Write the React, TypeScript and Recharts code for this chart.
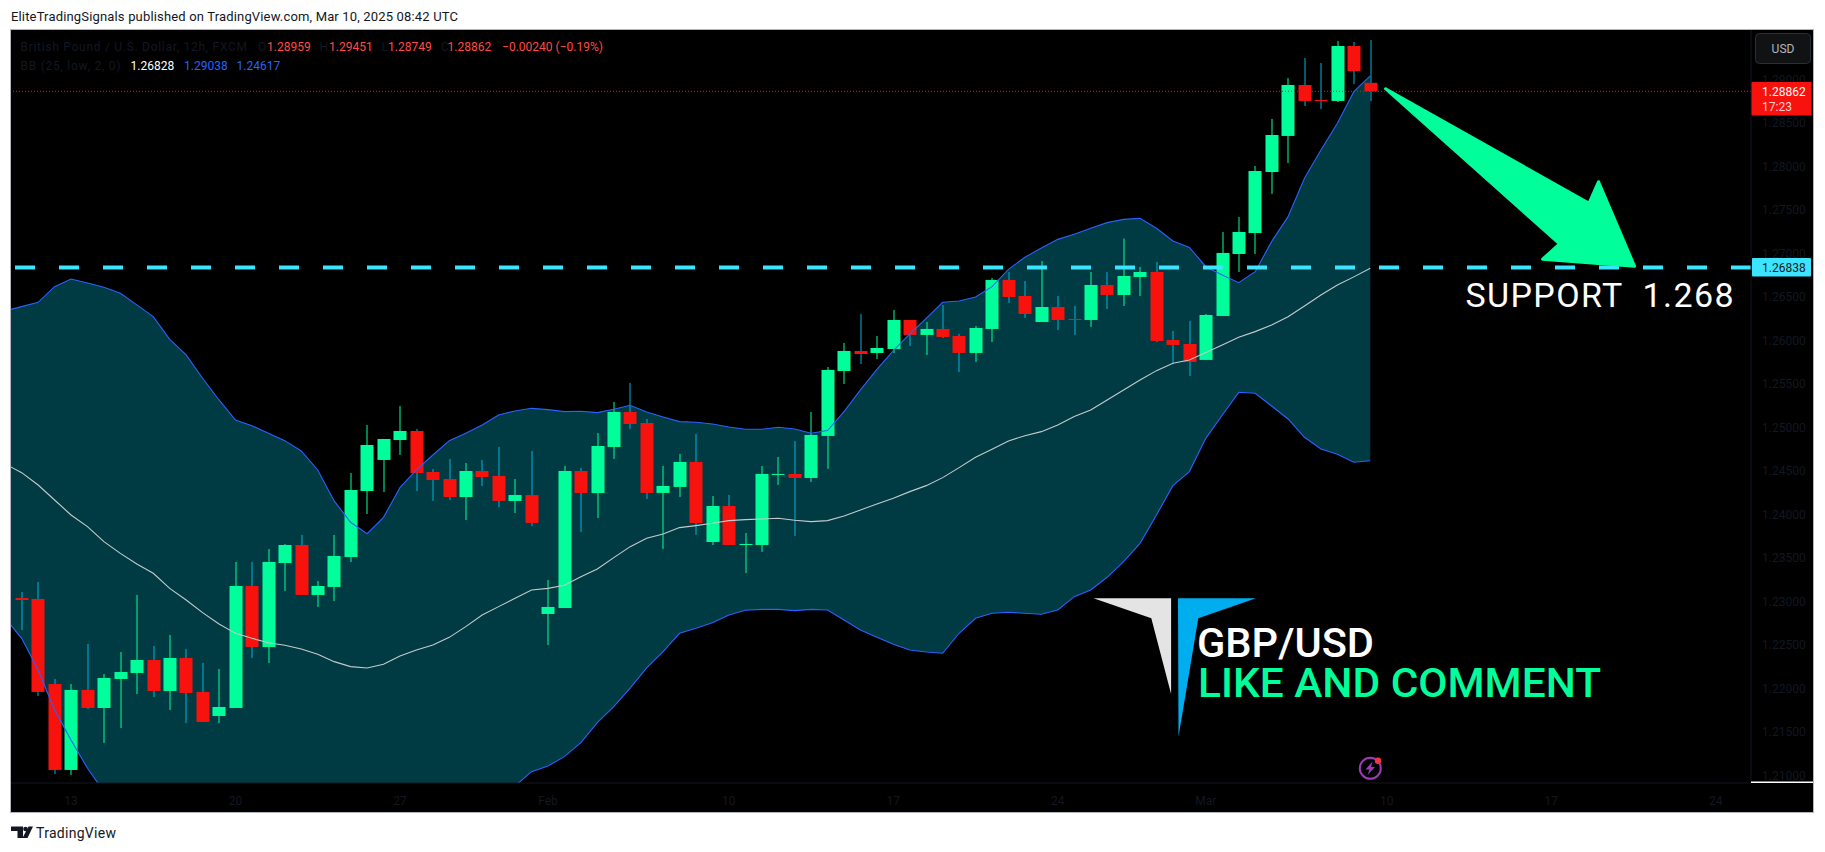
import React from "react";
import { ComposedChart, Area, Line, Bar, XAxis, YAxis, ReferenceLine, ReferenceDot } from "recharts";

// Candles, index 0..82 (12h bars)
const opens = [1.23041,1.2303,1.22053,1.21066,1.21985,1.21778,1.22111,1.2218,1.22329,1.21973,1.22352,1.21962,1.21686,1.21778,1.23179,1.22478,1.23443,1.2365,1.23076,1.23168,1.23512,1.2427,1.24627,1.24856,1.2496,1.24489,1.24408,1.24201,1.245,1.24443,1.24156,1.24224,1.22858,1.22926,1.245,1.24247,1.24776,1.25178,1.25052,1.24248,1.24317,1.24604,1.23685,1.24098,1.2365,1.2365,1.24455,1.24466,1.2442,1.24903,1.25649,1.25879,1.25856,1.25902,1.26235,1.26063,1.26132,1.26051,1.25856,1.26132,1.26695,1.26511,1.26212,1.26384,1.26247,1.26235,1.26637,1.26522,1.26729,1.26786,1.26005,1.25959,1.25776,1.26281,1.26993,1.27234,1.27935,1.28349,1.28934,1.28762,1.28751,1.29382,1.28959];
const highs = [1.2311,1.23225,1.22111,1.22053,1.22513,1.22168,1.22421,1.23076,1.2249,1.22616,1.22456,1.22295,1.22226,1.23455,1.23455,1.23604,1.23662,1.23765,1.23237,1.23765,1.24477,1.25029,1.24868,1.25247,1.24983,1.24523,1.24638,1.24592,1.24627,1.24776,1.24408,1.2473,1.23248,1.24558,1.24535,1.24937,1.25293,1.25511,1.25098,1.24558,1.24696,1.24926,1.24213,1.24225,1.23788,1.24558,1.24661,1.24845,1.25178,1.25695,1.25971,1.26304,1.26051,1.2635,1.26235,1.26212,1.26407,1.26074,1.26166,1.26717,1.26786,1.26683,1.26913,1.26511,1.26396,1.26786,1.26786,1.2717,1.26844,1.26901,1.26109,1.26224,1.26304,1.27246,1.27418,1.28004,1.28544,1.29015,1.29244,1.29187,1.2944,1.29428,1.29451];
const lows = [1.22674,1.21916,1.2102,1.21008,1.21766,1.21376,1.21548,1.21939,1.21904,1.21755,1.21605,1.21617,1.21605,1.21778,1.22352,1.22295,1.23122,1.23076,1.22938,1.23007,1.23455,1.24006,1.24259,1.24684,1.2427,1.24156,1.24167,1.23937,1.24328,1.24087,1.24018,1.23868,1.22501,1.22926,1.23799,1.2396,1.24638,1.24983,1.24179,1.23605,1.24202,1.23765,1.2365,1.2365,1.23329,1.2357,1.2434,1.23754,1.24374,1.24524,1.255,1.2573,1.25787,1.25856,1.25936,1.25833,1.26028,1.25638,1.25753,1.25982,1.2643,1.26258,1.26212,1.2612,1.26063,1.26155,1.26361,1.26396,1.26511,1.25982,1.2573,1.25592,1.25776,1.26281,1.26786,1.26993,1.27682,1.28038,1.28693,1.28659,1.28739,1.28946,1.28749];
const closes = [1.23018,1.21962,1.21066,1.21985,1.21778,1.22122,1.22191,1.22329,1.21973,1.22352,1.2195,1.21617,1.21789,1.23179,1.22478,1.23455,1.2365,1.23076,1.23179,1.23524,1.24282,1.24799,1.24868,1.2496,1.24477,1.24397,1.24201,1.245,1.24431,1.24156,1.24224,1.23903,1.22938,1.245,1.24247,1.24787,1.25178,1.2504,1.24248,1.24328,1.24604,1.23903,1.24098,1.2365,1.23662,1.24466,1.24466,1.2442,1.24914,1.25661,1.25879,1.25844,1.25913,1.26235,1.26063,1.26132,1.2604,1.25856,1.26143,1.26695,1.26499,1.26304,1.26384,1.26235,1.26235,1.26637,1.26522,1.2674,1.26786,1.25994,1.25948,1.25753,1.26292,1.27005,1.27246,1.27946,1.2836,1.28934,1.28751,1.28751,1.29382,1.29095,1.28862];

// Bollinger bands, index -1..82 (the first point lies just left of the visible range)
const bandUpper = [1.26339,1.26388,1.26438,1.26618,1.26706,1.2666,1.2661,1.26541,1.26408,1.26273,1.26013,1.25833,1.25565,1.25316,1.25086,1.25021,1.24933,1.24849,1.2473,1.24512,1.24156,1.23911,1.2378,1.23968,1.24309,1.24512,1.24684,1.24849,1.24933,1.25029,1.25144,1.2519,1.2522,1.25205,1.25182,1.25186,1.25171,1.25209,1.25255,1.25178,1.25121,1.25067,1.2506,1.2504,1.25006,1.24979,1.24979,1.25002,1.24983,1.24933,1.24964,1.25182,1.25431,1.25668,1.25883,1.26074,1.26254,1.26438,1.26453,1.26499,1.26618,1.26817,1.26955,1.27062,1.27161,1.27219,1.27288,1.27353,1.27391,1.27402,1.27288,1.27142,1.27069,1.26847,1.26751,1.26663,1.2679,1.27135,1.27422,1.27862,1.28188,1.28494,1.28858,1.29038];
const bandMid = [1.24581,1.24481,1.24339,1.24167,1.23995,1.23861,1.23688,1.23554,1.23432,1.23325,1.23152,1.23018,1.22873,1.22743,1.22635,1.22578,1.22528,1.22498,1.22455,1.22394,1.2231,1.22253,1.22237,1.22279,1.22375,1.22444,1.22501,1.22589,1.22712,1.22846,1.22942,1.23037,1.23133,1.23152,1.23187,1.23286,1.23374,1.23505,1.23631,1.23727,1.23777,1.2385,1.23873,1.23899,1.2393,1.23941,1.23949,1.23957,1.23934,1.23918,1.2393,1.23984,1.24053,1.24121,1.24187,1.24263,1.24332,1.24424,1.24539,1.24657,1.24749,1.24845,1.24906,1.24952,1.25029,1.25125,1.25201,1.25316,1.25431,1.25546,1.25653,1.25737,1.25776,1.2586,1.25948,1.26036,1.26101,1.26177,1.26273,1.26396,1.26522,1.26637,1.2673,1.26828];
const bandLower = [1.22808,1.22578,1.22214,1.21755,1.2141,1.21085,1.20817,1.20567,1.20456,1.20377,1.20291,1.20203,1.20181,1.2017,1.20184,1.20135,1.20123,1.20147,1.2018,1.20276,1.20464,1.20595,1.20694,1.2059,1.20441,1.20376,1.20318,1.20329,1.20491,1.20663,1.2074,1.20882,1.21046,1.21111,1.21219,1.2138,1.21609,1.21793,1.22007,1.22238,1.22425,1.22636,1.22693,1.22758,1.22846,1.229,1.22911,1.22911,1.22896,1.22911,1.22904,1.22789,1.22674,1.2259,1.22509,1.22444,1.22421,1.22406,1.22636,1.22808,1.22866,1.22877,1.22866,1.22854,1.22903,1.23057,1.23133,1.23279,1.23459,1.23669,1.23995,1.24332,1.24493,1.24875,1.2514,1.25404,1.25393,1.25247,1.25098,1.24887,1.24753,1.24692,1.246,1.24617];

const xTickIndex = [3, 13, 23, 32, 43, 53, 63, 72, 83, 93, 103];
const xTickText = ["13", "20", "27", "Feb", "10", "17", "24", "Mar", "10", "17", "24"];
const yTicks = [1.21, 1.215, 1.22, 1.225, 1.23, 1.235, 1.24, 1.245, 1.25, 1.255, 1.26, 1.265, 1.27, 1.275, 1.28, 1.285, 1.29];

const lastPrice = 1.28862;
const supportPrice = 1.26838;
const arrowTipIndex = 98.13;
const arrowTipPrice = 1.26841;

const rows = bandMid.map((mid, k) => {
  const i = k - 1;
  const has = i >= 0;
  return {
    idx: i,
    mid,
    upper: bandUpper[k],
    lower: bandLower[k],
    band: [bandLower[k], bandUpper[k]],
    range: has ? [lows[i], highs[i]] : null,
    open: has ? opens[i] : null,
    high: has ? highs[i] : null,
    low: has ? lows[i] : null,
    close: has ? closes[i] : null,
  };
});

const UP = "#00ff9a";
const DOWN = "#f7120d";
const DOWN_WICK = "#00b4d8";
const DIM = "#131722";
const FONT = "Roboto, sans-serif";

function Candle(props: any) {
  const { x, y, width, height, payload } = props;
  if (!payload || payload.high == null) return null;
  const h = Math.abs(height);
  const top = height < 0 ? y + height : y;
  const k = h / (payload.high - payload.low);
  const yO = top + (payload.high - payload.open) * k;
  const yC = top + (payload.high - payload.close) * k;
  const up = payload.close >= payload.open;
  const cx = Math.round(x + width / 2);
  const bt = Math.min(yO, yC);
  const bh = Math.max(1, Math.abs(yO - yC));
  return (
    <g>
      <rect x={cx - 0.5} y={top} width={1} height={h} fill={up ? UP : DOWN_WICK} />
      <rect x={cx - 6.5} y={bt} width={13} height={bh} fill={up ? UP : DOWN} />
    </g>
  );
}

function ArrowShape(props: any) {
  const { cx, cy } = props;
  const pts = [[-250, -178.5], [-46.5, -64], [-37, -85.5], [-1, -1], [-93, -8], [-76, -23.3]]
    .map(([a, b]) => `${cx + a},${cy + b}`)
    .join(" ");
  return <polygon points={pts} fill="#00ff9a" stroke="#00ff9a" strokeWidth={3} strokeLinejoin="round" />;
}

const legendRow1 = [
  { t: "British Pound / U.S. Dollar, 12h, FXCM", x: 20.5, c: DIM, w: 226.5 },
  { t: "O", x: 258, c: DIM },
  { t: "1.28959", x: 267, c: "#ff4a4a" },
  { t: "H", x: 319.5, c: DIM },
  { t: "1.29451", x: 329, c: "#ff4a4a" },
  { t: "L", x: 381.6, c: DIM },
  { t: "1.28749", x: 388, c: "#ff4a4a" },
  { t: "C", x: 441, c: DIM },
  { t: "1.28862", x: 447.6, c: "#ff4a4a" },
  { t: "\u22120.00240 (\u22120.19%)", x: 502, c: "#ff4a4a", w: 101 },
];
const legendRow2 = [
  { t: "BB (25, low, 2, 0)", x: 20.5, c: DIM, w: 100 },
  { t: "1.26828", x: 130.5, c: "#ffffff" },
  { t: "1.29038", x: 184, c: "#2962ff" },
  { t: "1.24617", x: 236.5, c: "#2962ff" },
];

export default function App() {
  return (
    <div style={{ position: "absolute", left: 0, top: 0, width: 1825, height: 852, background: "#ffffff", overflow: "hidden", fontFamily: FONT }}>
      <div style={{ position: "absolute", left: 11, top: 30, width: 1802, height: 782, background: "#000000", boxShadow: "0 0 0 1px #b2b5be" }} />

      <ComposedChart
        width={1825}
        height={852}
        data={rows}
        margin={{ left: 11, top: 30, right: 12, bottom: 40 }}
        style={{ position: "absolute", left: 0, top: 0 }}
      >
        <XAxis
          type="number"
          dataKey="idx"
          domain={[-0.65, 105.15]}
          allowDataOverflow
          ticks={xTickIndex}
          interval={0}
          tickFormatter={(v: number) => xTickText[xTickIndex.indexOf(v)]}
          tick={{ fill: DIM, fontSize: 12, fontFamily: FONT }}
          tickLine={false}
          tickMargin={7}
          height={29}
          axisLine={{ stroke: DIM }}
        />
        <YAxis
          type="number"
          orientation="right"
          domain={[1.20916, 1.29566]}
          allowDataOverflow
          ticks={yTicks}
          interval={0}
          tickFormatter={(v: number) => v.toFixed(5)}
          tick={{ fill: DIM, fontSize: 12, fontFamily: FONT }}
          tickLine={false}
          tickSize={0}
          tickMargin={11}
          width={62}
          axisLine={{ stroke: DIM }}
        />
        <Area dataKey="band" type="linear" stroke="none" fill="#003b44" fillOpacity={1} dot={false} activeDot={false} isAnimationActive={false} />
        <Line dataKey="upper" type="linear" stroke="#2962ff" strokeWidth={1.1} dot={false} activeDot={false} isAnimationActive={false} />
        <Line dataKey="lower" type="linear" stroke="#2962ff" strokeWidth={1.1} dot={false} activeDot={false} isAnimationActive={false} />
        <Line dataKey="mid" type="linear" stroke="#c4cacb" strokeWidth={1.1} dot={false} activeDot={false} isAnimationActive={false} />
        <Bar dataKey="range" barSize={13} shape={<Candle />} isAnimationActive={false} />
        <ReferenceLine y={lastPrice} stroke="#f7120d" strokeWidth={1} strokeDasharray="1 2" />
        <ReferenceLine y={supportPrice} stroke="#3de4ff" strokeWidth={4} strokeDasharray="20 24" />
        <ReferenceDot x={arrowTipIndex} y={arrowTipPrice} r={1} shape={<ArrowShape />} />
      </ComposedChart>

      <svg width={1825} height={852} style={{ position: "absolute", left: 0, top: 0, pointerEvents: "none" }}>
        <text x={11} y={21} fontSize={13} fontFamily={FONT} fill="#131722" textLength={447} lengthAdjust="spacing">
          EliteTradingSignals published on TradingView.com, Mar 10, 2025 08:42 UTC
        </text>
        {legendRow1.map((d) => (
          <text key={d.t + d.x} x={d.x} y={51} fontSize={12} fontFamily={FONT} fill={d.c} textLength={d.w} lengthAdjust={d.w ? "spacing" : undefined}>{d.t}</text>
        ))}
        {legendRow2.map((d) => (
          <text key={d.t + d.x} x={d.x} y={70} fontSize={12} fontFamily={FONT} fill={d.c} textLength={d.w} lengthAdjust={d.w ? "spacing" : undefined}>{d.t}</text>
        ))}

        {/* price scale widgets */}
        <rect x={1755.5} y={33.5} width={55} height={30} rx={4} fill="#111214" stroke="#2a2e39" />
        <text x={1783} y={53} textAnchor="middle" fontSize={12} fontFamily={FONT} fill="#b2b5be">USD</text>
        <rect x={1751.5} y={82} width={60} height={33.5} rx={1} fill="#f7120d" />
        <text x={1762} y={96} fontSize={12} fontFamily={FONT} fill="#ffffff">1.28862</text>
        <text x={1762} y={111} fontSize={12} fontFamily={FONT} fill="#ffd0d0">17:23</text>
        <rect x={1752} y={258} width={59} height={18.5} rx={1} fill="#3de4ff" />
        <text x={1762} y={272} fontSize={12} fontFamily={FONT} fill="#131722">1.26838</text>
        <rect x={1751} y={781.5} width={62} height={1.5} fill="#ffffff" />

        {/* support label */}
        <text x={1465.5} y={307} fontSize={34} fontFamily={FONT} fill="#ffffff" textLength={268} lengthAdjust="spacing" style={{ whiteSpace: "pre" }}>
          SUPPORT  1.268
        </text>

        {/* watermark logo and captions */}
        <polygon points="1093.5,598.3 1171.1,598.3 1171.1,694 1151.3,618.3" fill="#e4e4e4" />
        <polygon points="1178,598.3 1256,598.3 1198.3,618.3 1178.5,736.7" fill="#00aeef" />
        <text x={1197} y={656.7} fontSize={41} fontWeight={500} fontFamily={FONT} fill="#ffffff" textLength={177} lengthAdjust="spacingAndGlyphs">GBP/USD</text>
        <text x={1198} y={697} fontSize={41} fontWeight={500} fontFamily={FONT} fill="#00ff9a" textLength={403} lengthAdjust="spacingAndGlyphs">LIKE AND COMMENT</text>

        {/* lightning badge */}
        <circle cx={1370.3} cy={768.3} r={10.5} fill="none" stroke="#a03ab8" strokeWidth={2} />
        <polygon points="1372.5,761.5 1365.5,769.5 1369.5,769.5 1367.5,775 1375,767 1371,767" fill="#a03ab8" />
        <circle cx={1378} cy={760.7} r={3.2} fill="#f23645" />

        {/* footer */}
        <polygon points="11,826.5 23,826.5 23,838 17.5,838 17.5,831 11,831" fill="#131722" />
        <circle cx={25.5} cy={829} r={2.3} fill="#131722" />
        <polygon points="28.5,826.5 33,826.5 27.5,838 22.5,838" fill="#131722" />
        <text x={36} y={838} fontSize={14} fontFamily={FONT} fill="#131722" textLength={80} lengthAdjust="spacing">TradingView</text>
      </svg>
    </div>
  );
}
